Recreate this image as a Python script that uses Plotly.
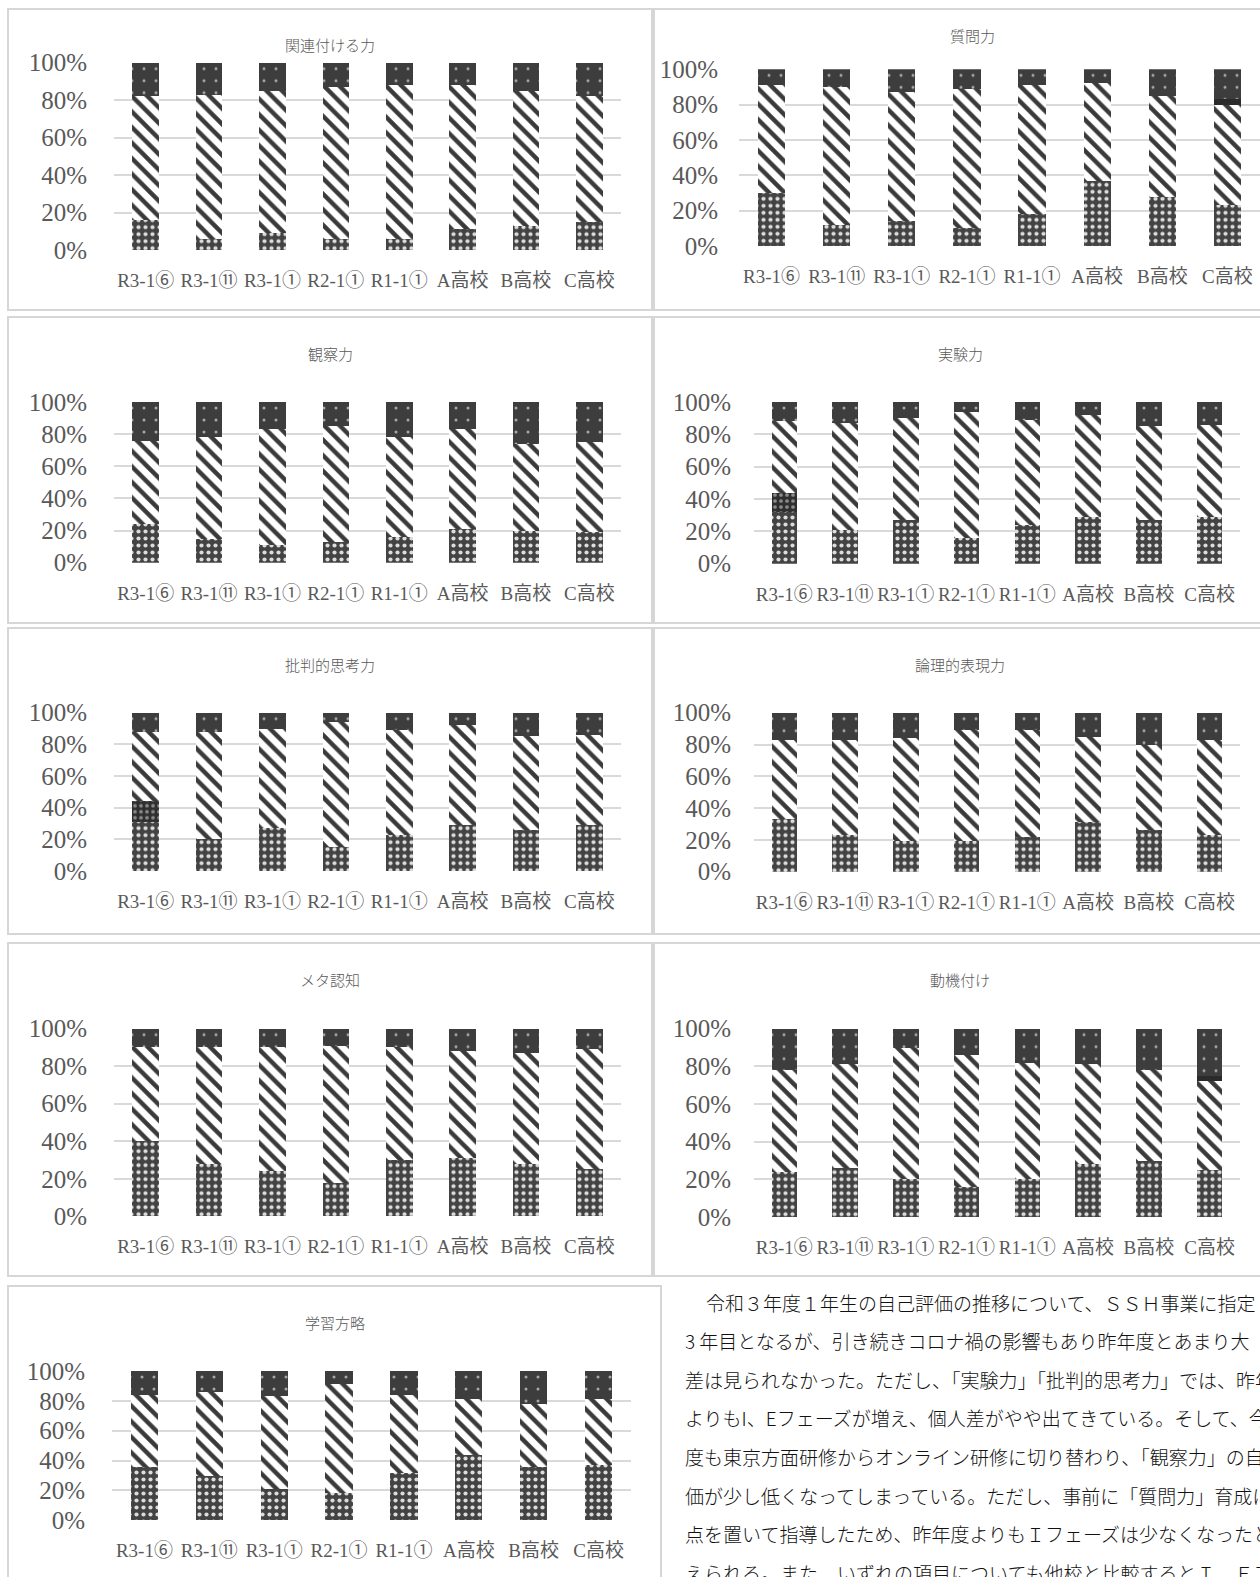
import plotly.graph_objects as go

W, H = 1260, 1577

# ---------------------------------------------------------------- data
categories = ["R3-1⑥", "R3-1⑪", "R3-1①", "R2-1①", "R1-1①", "A高校", "B高校", "C高校"]
y_tick_values = [0, 20, 40, 60, 80, 100]
y_tick_labels = ["0%", "20%", "40%", "60%", "80%", "100%"]

chart_titles = ["関連付ける力", "質問力", "観察力", "実験力", "批判的思考力",
                "論理的表現力", "メタ認知", "動機付け", "学習方略"]

# 関連付ける力
kanren_lower = [16, 6, 9, 6, 6, 11, 13, 15]
kanren_middle = [66, 77, 76, 81, 82, 77, 72, 67]
kanren_upper = [18, 17, 15, 13, 12, 12, 15, 18]

# 質問力
shitsumon_lower = [30, 12, 14, 10, 18, 37, 28, 23]
shitsumon_middle = [61, 78, 73, 79, 73, 55, 57, 57]
shitsumon_band = [0, 0, 0, 0, 0, 0, 0, 3]
shitsumon_upper = [9, 10, 13, 11, 9, 8, 15, 17]

# 観察力
kansatsu_lower = [24, 15, 11, 13, 16, 21, 20, 19]
kansatsu_middle = [52, 63, 72, 72, 62, 62, 54, 56]
kansatsu_upper = [24, 22, 17, 15, 22, 17, 26, 25]

# 実験力
jikken_lower = [32, 21, 27, 16, 24, 29, 27, 29]
jikken_lower2 = [12, 0, 0, 0, 0, 0, 0, 0]
jikken_middle = [44, 66, 63, 78, 65, 63, 58, 57]
jikken_upper = [12, 13, 10, 6, 11, 8, 15, 14]

# 批判的思考力
hihan_lower = [31, 20, 27, 15, 23, 29, 26, 29]
hihan_lower2 = [13, 0, 0, 0, 0, 0, 0, 0]
hihan_middle = [44, 68, 63, 79, 66, 63, 59, 57]
hihan_upper = [12, 12, 10, 6, 11, 8, 15, 14]

# 論理的表現力
ronri_lower = [33, 23, 19, 19, 22, 31, 26, 23]
ronri_middle = [50, 60, 65, 70, 67, 54, 54, 60]
ronri_upper = [17, 17, 16, 11, 11, 15, 20, 17]

# メタ認知
meta_lower = [40, 28, 24, 18, 30, 31, 28, 25]
meta_middle = [50, 62, 66, 73, 60, 57, 59, 64]
meta_upper = [10, 10, 10, 9, 10, 12, 13, 11]

# 動機付け
douki_lower = [24, 26, 20, 16, 20, 28, 30, 25]
douki_middle = [54, 55, 70, 70, 62, 53, 48, 47]
douki_band = [0, 0, 0, 0, 0, 0, 0, 3]
douki_upper = [22, 19, 10, 14, 18, 19, 22, 25]

# 学習方略
gakushu_lower = [36, 30, 21, 18, 32, 44, 36, 37]
gakushu_middle = [48, 56, 62, 73, 52, 37, 42, 44]
gakushu_upper = [16, 14, 17, 9, 16, 19, 22, 19]

body_lines = [
    "令和３年度１年生の自己評価の推移について、ＳＳＨ事業に指定",
    "3 年目となるが、引き続きコロナ禍の影響もあり昨年度とあまり大",
    "差は見られなかった。ただし、「実験力」「批判的思考力」では、昨年",
    "よりもI、Eフェーズが増え、個人差がやや出てきている。そして、今年",
    "度も東京方面研修からオンライン研修に切り替わり、「観察力」の自己評",
    "価が少し低くなってしまっている。ただし、事前に「質問力」育成に重",
    "点を置いて指導したため、昨年度よりもＩフェーズは少なくなったと考",
    "えられる。また、いずれの項目についても他校と比較するとＩ、Ｅフェ",
]

chart_series = [
    (kanren_lower, None, kanren_middle, None, kanren_upper),
    (shitsumon_lower, None, shitsumon_middle, shitsumon_band, shitsumon_upper),
    (kansatsu_lower, None, kansatsu_middle, None, kansatsu_upper),
    (jikken_lower, jikken_lower2, jikken_middle, None, jikken_upper),
    (hihan_lower, hihan_lower2, hihan_middle, None, hihan_upper),
    (ronri_lower, None, ronri_middle, None, ronri_upper),
    (meta_lower, None, meta_middle, None, meta_upper),
    (douki_lower, None, douki_middle, douki_band, douki_upper),
    (gakushu_lower, None, gakushu_middle, None, gakushu_upper),
]

# ---------------------------------------------------------------- layout (pixels)
# box: frame rectangle, plot: (left, top, right, bottom) of plotting area,
# title: centre of chart title, ystand: gap between y labels and grid
panels = [
    dict(box=(8, 9, 652, 310), plot=(114, 62.7, 621, 250), title=(330, 44), ystand=26),
    dict(box=(654, 9, 1275, 310), plot=(739, 69.3, 1260, 246), title=(972, 36), ystand=20),
    dict(box=(8, 317, 652, 623), plot=(114, 402, 621, 562.7), title=(330, 354), ystand=26),
    dict(box=(654, 317, 1275, 623), plot=(754, 402, 1240, 563.7), title=(960, 354), ystand=22),
    dict(box=(8, 628, 652, 934), plot=(114, 712.7, 621, 871), title=(330, 664), ystand=26),
    dict(box=(654, 628, 1275, 934), plot=(754, 712.7, 1240, 871.7), title=(960, 664), ystand=22),
    dict(box=(8, 943, 652, 1276), plot=(114, 1028.7, 621, 1216.3), title=(330, 980), ystand=26),
    dict(box=(654, 943, 1275, 1276), plot=(754, 1028.7, 1240, 1217), title=(960, 979), ystand=22),
    dict(box=(8, 1286, 661, 1600), plot=(112, 1371, 631, 1520.3), title=(335, 1322), ystand=26),
]

GRAY_TEXT = "#595959"
GRID = "#d9d9d9"
SERIF = "Liberation Serif, Noto Sans CJK JP, serif"
JP = "Noto Sans CJK JP, sans-serif"

# fill styles for each stacked segment (bottom to top)
segment_styles = [
    dict(shape=".", bgcolor="#434343", fgcolor="#dcdcdc", size=7, solidity=0.28),
    dict(shape=".", bgcolor="#2f2f2f", fgcolor="#8c8c8c", size=6, solidity=0.3),
    dict(shape="\\", bgcolor="#ffffff", fgcolor="#3a3a3a", size=11, solidity=0.4),
    dict(shape="", bgcolor="#2b2b2b", fgcolor="#2b2b2b", size=8, solidity=0.2),
    dict(shape=".", bgcolor="#3d3d3d", fgcolor="#a8a8a8", size=12, solidity=0.05),
]

fig = go.Figure()


def px_x(v):
    return v / W


def px_y(v):
    return 1 - v / H


layout_axes = {}
shapes = []
annotations = []

for i, (panel, series, title) in enumerate(zip(panels, chart_series, chart_titles)):
    sfx = "" if i == 0 else str(i + 1)
    xa, ya = "x" + sfx, "y" + sfx
    for values, style in zip(series, segment_styles):
        if values is None:
            continue
        if style["shape"] == "":
            marker = dict(color=style["bgcolor"], line=dict(width=0))
        else:
            marker = dict(color=style["bgcolor"], line=dict(width=0),
                          pattern=dict(shape=style["shape"], bgcolor=style["bgcolor"],
                                       fgcolor=style["fgcolor"], size=style["size"],
                                       solidity=style["solidity"], fillmode="replace"))
        fig.add_trace(go.Bar(x=categories, y=values, xaxis=xa, yaxis=ya,
                             marker=marker, showlegend=False, hoverinfo="skip"))

    left, top, right, bottom = panel["plot"]
    layout_axes["xaxis" + sfx] = dict(
        domain=[px_x(left), px_x(right)], anchor=ya, type="category",
        range=[-0.5, 7.5], showgrid=False, showline=False, zeroline=False,
        ticks="", ticklabelstandoff=17, automargin=False,
        tickfont=dict(family=SERIF, size=19, color=GRAY_TEXT), fixedrange=True,
    )
    layout_axes["yaxis" + sfx] = dict(
        domain=[px_y(bottom), px_y(top)], anchor=xa, range=[0, 100],
        tickvals=y_tick_values, ticktext=y_tick_labels,
        showgrid=True, gridcolor=GRID, gridwidth=2, zeroline=False, showline=False,
        ticks="", ticklabelstandoff=panel["ystand"], automargin=False,
        tickfont=dict(family=SERIF, size=25, color=GRAY_TEXT), fixedrange=True,
    )

    bx0, by0, bx1, by1 = panel["box"]
    shapes.append(dict(type="rect", xref="paper", yref="paper",
                       x0=px_x(bx0), x1=px_x(bx1), y0=px_y(by1), y1=px_y(by0),
                       line=dict(color="#d6d6d6", width=2), fillcolor="rgba(0,0,0,0)",
                       layer="below"))
    tx, ty = panel["title"]
    annotations.append(dict(text=title, xref="paper", yref="paper",
                            x=px_x(tx), y=px_y(ty), xanchor="center", yanchor="middle",
                            showarrow=False,
                            font=dict(family=JP, size=15, color=GRAY_TEXT, weight=300)))

# paragraph beside the last chart
line_x = [704] + [683] * (len(body_lines) - 1)
for k, (line, lx) in enumerate(zip(body_lines, line_x)):
    annotations.append(dict(text=line, xref="paper", yref="paper",
                            x=px_x(lx), y=px_y(1302 + k * 38.6),
                            xanchor="left", yanchor="middle", showarrow=False,
                            font=dict(family=JP, size=19, color="#111111", weight=300)))

fig.update_layout(
    template="none",
    width=W, height=H,
    margin=dict(l=0, r=0, t=0, b=0, pad=0, autoexpand=False),
    paper_bgcolor="white", plot_bgcolor="white",
    barmode="stack", bargap=0.58,
    shapes=shapes, annotations=annotations,
    showlegend=False,
    **layout_axes,
)

fig.write_html("out.html")
